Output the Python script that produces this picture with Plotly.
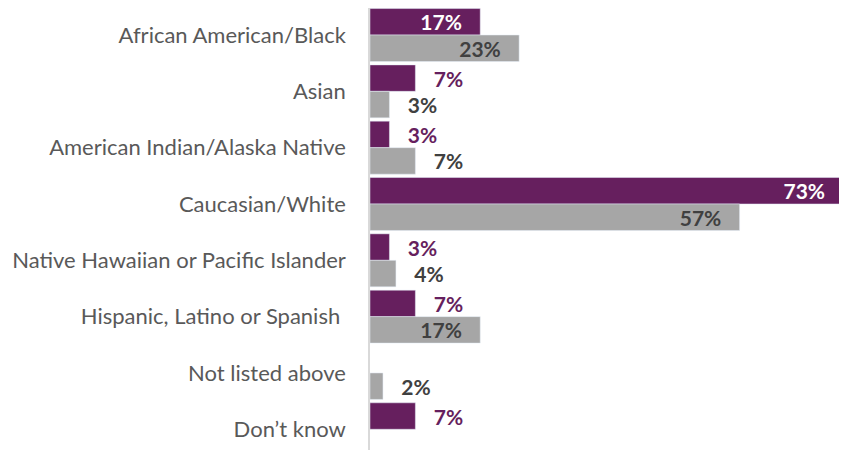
import plotly.graph_objects as go

categories = ["African American/Black", "Asian", "American Indian/Alaska Native",
              "Caucasian/White", "Native Hawaiian or Pacific Islander",
              "Hispanic, Latino or Spanish ", "Not listed above", "Don’t know"]
series_a = [17, 7, 3, 73, 3, 7, None, 7]
series_b = [23, 3, 7, 57, 4, 17, 2, None]

PURPLE = "#661F5E"
GRAY = "#A6A6A6"
DARK = "#404040"
NB = "\u00a0"

def labels(vals, threshold, in_color, out_color):
    text, pos, col = [], [], []
    for v in vals:
        if v is None:
            text.append(""); pos.append("none"); col.append(out_color)
        elif v >= threshold:
            text.append(f"{v}%" + NB * 3); pos.append("inside"); col.append(in_color)
        else:
            text.append(NB * 3 + f"{v}%"); pos.append("outside"); col.append(out_color)
    return text, pos, col

ta, pa, ca = labels(series_a, 15, "white", PURPLE)
tb, pb, cb = labels(series_b, 15, DARK, DARK)

fig = go.Figure()
fig.add_trace(go.Bar(y=categories, x=series_a, orientation="h", marker_color=PURPLE,
                     text=ta, textposition=pa, insidetextanchor="end", constraintext="none",
                     textfont=dict(color=ca, size=21, family="Lato", weight="bold"),
                     cliponaxis=False, hoverinfo="skip"))
fig.add_trace(go.Bar(y=categories, x=series_b, orientation="h", marker_color=GRAY,
                     text=tb, textposition=pb, insidetextanchor="end", constraintext="none",
                     textfont=dict(color=cb, size=21, family="Lato", weight="bold"),
                     cliponaxis=False, hoverinfo="skip"))

fig.update_layout(
    width=847, height=450, barmode="group", bargap=0.06, bargroupgap=0,
    margin=dict(l=362, r=0, t=0, b=0), showlegend=False,
    plot_bgcolor="white", paper_bgcolor="white",
    uniformtext=dict(mode=False),
    xaxis=dict(range=[0, 74.8], visible=False, showgrid=False, zeroline=False, automargin=False),
    yaxis=dict(range=[7.51, -0.48], showline=True, linecolor="#D9D9D9", linewidth=1.5,
               ticks="", ticklabelstandoff=18, automargin=False,
               tickfont=dict(family="Lato", size=22, color="#595959"), showgrid=False),
)
fig.write_html("out.html")
